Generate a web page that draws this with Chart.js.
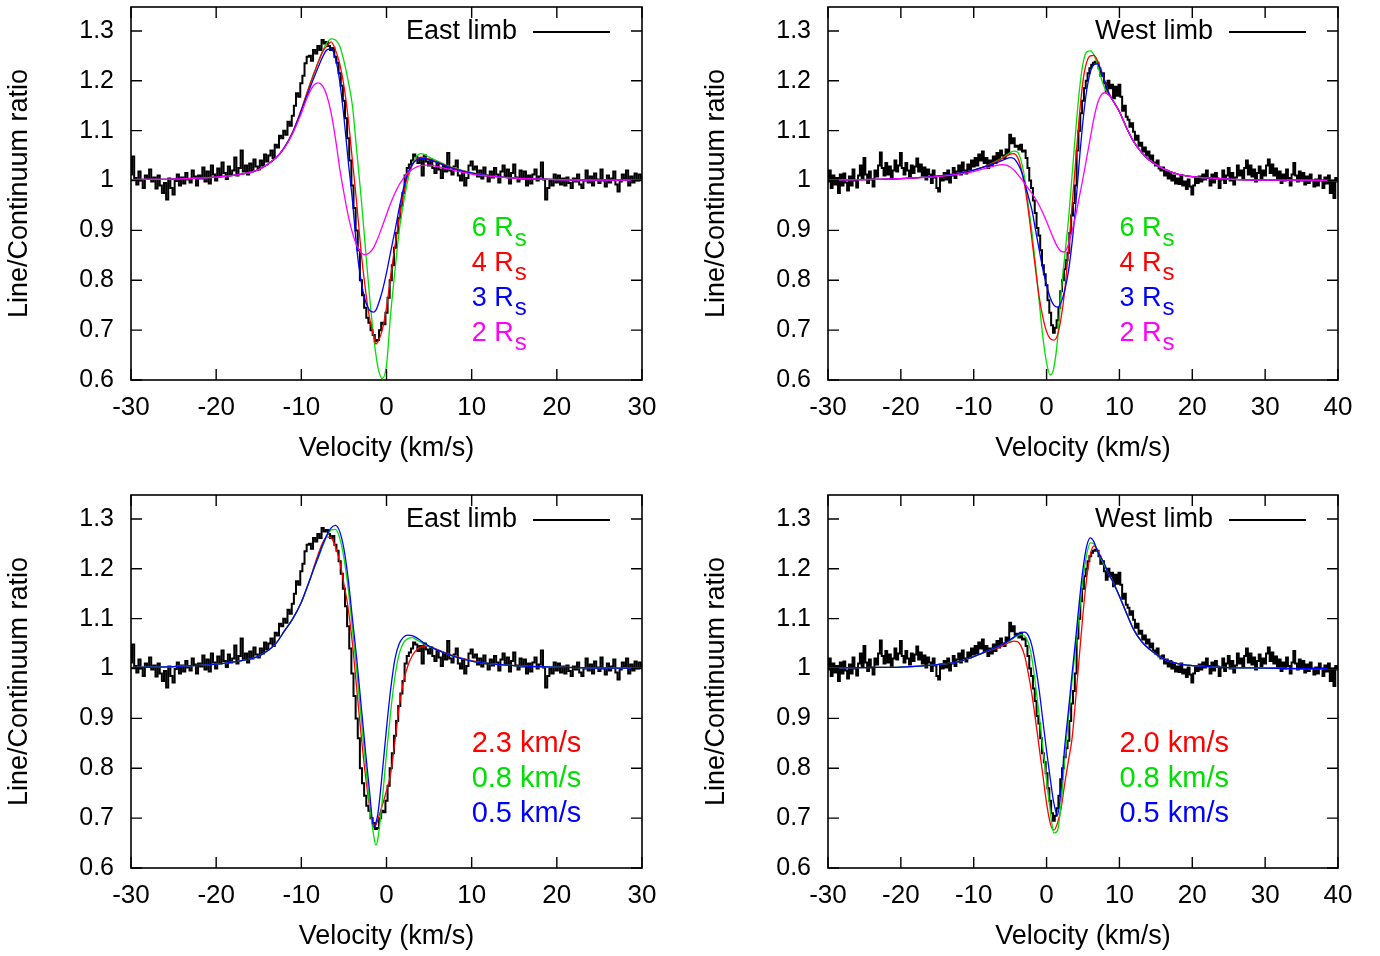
<!DOCTYPE html>
<html>
<head>
<meta charset="utf-8">
<title>Line profiles - East / West limb</title>
<script src="https://cdn.jsdelivr.net/npm/chart.js@4.4.1/dist/chart.umd.min.js"></script>
<style>
  html, body { margin: 0; padding: 0; background: #fff; }
  body { width: 1380px; height: 956px; overflow: hidden; position: relative; }
  .panel { position: absolute; width: 690px; height: 478px; }
</style>
</head>
<body>
<div class="panel" style="left:0;top:0"><canvas id="eastRadius" width="690" height="478"></canvas></div>
<div class="panel" style="left:697px;top:0"><canvas id="westRadius" width="690" height="478"></canvas></div>
<div class="panel" style="left:0;top:488px"><canvas id="eastSpeed" width="690" height="478"></canvas></div>
<div class="panel" style="left:697px;top:488px"><canvas id="westSpeed" width="690" height="478"></canvas></div>

<script>
/* ------------------------------------------------------------
   Data
   ------------------------------------------------------------ */
const yTicks = [0.6, 0.7, 0.8, 0.9, 1.0, 1.1, 1.2, 1.3];
const xTicksEast = [-30, -20, -10, 0, 10, 20, 30];
const xTicksWest = [-30, -20, -10, 0, 10, 20, 30, 40];

// observed profiles, sampled every 0.25 km/s from -30 km/s
const obsStart = -30;
const obsStep = 0.25;

const eastObs = [
  1.012, 1.048, 1.005, 0.992,  1.018, 1.000, 0.985, 1.010,  1.003, 1.022, 0.998, 1.006,
  0.984, 1.010, 0.990, 0.975,  0.995, 0.962, 1.004, 0.985,  0.972, 0.999, 1.012, 0.990,
  1.006, 0.994, 1.015, 1.002,  0.996, 1.020, 1.008, 0.990,  1.010, 1.004, 1.026, 0.998,
  1.018, 0.994, 1.030, 1.012,  1.000, 1.024, 1.010, 1.036,  1.015, 1.003, 1.028, 1.012,
  1.020, 1.046, 1.010, 1.025,  1.060, 1.018, 1.030, 1.012,  1.034, 1.020, 1.042, 1.028,
  1.022, 1.040, 1.030, 1.052,  1.038, 1.050, 1.060, 1.045,  1.072, 1.066, 1.090, 1.085,
  1.100, 1.092, 1.118, 1.110,  1.130, 1.150, 1.175, 1.168,  1.195, 1.210, 1.235, 1.248,
  1.250, 1.240, 1.262, 1.255,  1.270, 1.262, 1.282, 1.275,  1.278, 1.270, 1.262, 1.266,
  1.248, 1.236, 1.215, 1.190,  1.160, 1.125, 1.085, 1.040,  0.990, 0.945, 0.900, 0.860,
  0.800, 0.770, 0.745, 0.725,  0.715, 0.700, 0.690, 0.678,  0.680, 0.700, 0.715, 0.712,
  0.735, 0.765, 0.800, 0.830,  0.865, 0.895, 0.925, 0.950,  0.975, 1.010, 1.025, 1.032,
  1.040, 1.052, 1.048, 1.035,  1.045, 1.010, 1.050, 1.038,  1.030, 1.042, 1.025, 1.015,
  1.035, 1.022, 1.005, 1.030,  1.018, 1.055, 1.020, 1.012,  1.028, 1.040, 1.010, 1.000,
  1.018, 0.990, 1.005, 1.030,  1.038, 1.022, 1.028, 1.008,  1.020, 1.004, 1.026, 1.010,
  0.998, 1.018, 1.006, 1.025,  1.012, 0.996, 1.018, 1.030,  1.008, 1.022, 0.994, 1.015,
  1.032, 1.006, 0.998, 1.020,  1.004, 1.018, 0.990, 1.010,  0.994, 1.012, 1.022, 1.000,
  1.008, 1.036, 1.002, 0.962,  0.985, 1.000, 0.990, 1.012,  0.996, 1.010, 0.992, 1.004,
  0.990, 1.006, 0.995, 0.985,  1.004, 0.998, 1.012, 0.992,  0.985, 1.000, 1.020, 0.996,
  1.008, 0.990, 1.014, 1.002,  0.995, 1.022, 1.000, 0.988,  1.010, 0.996, 1.004, 1.018,
  0.992, 0.978, 0.998, 1.012,  1.004, 1.020, 0.990, 1.008,  0.996, 1.014, 1.000, 1.012,
  1.004
];

const westObs = [
  0.998, 1.020, 0.985, 1.010,  0.992, 1.005, 0.975, 1.012,  0.990, 1.014, 0.996, 0.980,
  1.008, 0.990, 1.022, 1.000,  0.986, 1.010, 1.030, 1.004,  1.045, 1.012, 0.995, 1.018,
  1.002, 0.988, 1.020, 1.008,  1.030, 1.056, 1.025, 1.010,  1.035, 1.012, 1.028, 1.004,
  1.020, 1.040, 1.018, 1.030,  1.055, 1.025, 1.012, 1.035,  1.020, 1.008, 1.030, 1.015,
  1.028, 1.044, 1.018, 1.032,  1.010, 1.026, 1.002, 1.022,  1.012, 0.995, 1.020, 1.006,
  0.985, 0.978, 1.008, 1.000,  1.015, 1.002, 1.020, 0.996,  1.010, 1.025, 1.005, 1.018,
  1.030, 1.012, 1.036, 1.020,  1.014, 1.032, 1.022, 1.040,  1.028, 1.045, 1.030, 1.052,
  1.040, 1.058, 1.035, 1.045,  1.025, 1.040, 1.030, 1.048,  1.035, 1.055, 1.042, 1.060,
  1.050, 1.045, 1.062, 1.055,  1.092, 1.075, 1.085, 1.068,  1.070, 1.062, 1.072, 1.058,
  1.060, 1.045, 1.025, 1.000,  0.985, 0.960, 0.935, 0.905,  0.890, 0.860, 0.830, 0.812,
  0.790, 0.760, 0.735, 0.710,  0.695, 0.705, 0.720, 0.745,  0.778, 0.800, 0.822, 0.840,
  0.855, 0.895, 0.930, 0.955,  0.990, 1.060, 1.100, 1.135,  1.160, 1.185, 1.200, 1.215,
  1.225, 1.232, 1.236, 1.238,  1.236, 1.225, 1.210, 1.215,  1.195, 1.178, 1.200, 1.185,
  1.192, 1.165, 1.188, 1.170,  1.192, 1.168, 1.140, 1.150,  1.128, 1.122, 1.108, 1.115,
  1.098, 1.082, 1.090, 1.070,  1.076, 1.058, 1.066, 1.050,  1.058, 1.042, 1.050, 1.036,
  1.030, 1.040, 1.024, 1.020,  1.026, 1.010, 1.018, 1.004,  1.015, 1.000, 1.010, 0.994,
  1.004, 0.993, 1.010, 0.990,  0.998, 0.983, 1.002, 0.988,  0.972, 0.990, 1.005, 0.995,
  1.008, 0.998, 1.012, 1.002,  1.020, 1.005, 0.990, 1.012,  0.996, 1.015, 1.004, 0.985,
  1.002, 1.020, 0.995, 1.010,  1.025, 1.000, 1.015, 0.992,  1.006, 1.030, 1.010, 1.020,
  1.004, 1.025, 1.040, 1.012,  1.030, 1.008, 1.022, 0.998,  1.015, 1.028, 1.005, 1.020,
  1.010, 1.030, 1.042, 1.015,  1.032, 1.010, 1.024, 1.002,  1.018, 0.995, 1.012, 1.000,
  1.022, 1.005, 0.990, 1.012,  1.035, 1.010, 0.998, 1.018,  1.000, 1.015, 0.992, 1.008,
  0.995, 1.012, 1.000, 0.988,  1.002, 0.990, 1.010, 1.000,  0.985, 1.006, 0.994, 1.010,
  0.975, 1.000, 0.965, 1.005,  0.998
];

// model velocity grids (km/s)
const eastGrid = [
  -30, -25, -20, -17, -15, -13, -12,
  -11, -10, -9.5, -9, -8.5, -8, -7.5,
  -7, -6.5, -6, -5.5, -5, -4.5, -4,
  -3.5, -3, -2.5, -2, -1.5, -1.25, -1,
  -0.5, 0, 0.5, 1, 1.5, 2, 2.5,
  3, 3.5, 4, 4.5, 5, 6, 7,
  8, 10, 12, 15, 20, 25, 30
];
const westGrid = [
  -30, -25, -20, -15, -12, -10, -8,
  -7, -6, -5.5, -5, -4.5, -4, -3.5,
  -3, -2.5, -2, -1.5, -1, -0.5, 0,
  0.5, 1, 1.5, 2, 2.5, 3, 3.5,
  4, 4.5, 5, 5.5, 6, 6.5, 7,
  7.5, 8, 8.5, 9, 10, 11, 12,
  13, 14, 16, 18, 20, 25, 30,
  35, 40
];

// East limb, emission radius models
const eastR6 = [
  1.002, 1.003, 1.007, 1.013, 1.022, 1.045, 1.066,
  1.098, 1.142, 1.168, 1.193, 1.217, 1.238, 1.260,
  1.276, 1.284, 1.282, 1.270, 1.240, 1.200, 1.150,
  1.060, 0.970, 0.870, 0.770, 0.685, 0.652, 0.625,
  0.603, 0.630, 0.735, 0.820, 0.900, 0.955, 1.000,
  1.030, 1.048, 1.054, 1.052, 1.047, 1.039, 1.031,
  1.025, 1.016, 1.010, 1.005, 1.002, 1.001, 1.001
];
const eastR4 = [
  1.002, 1.003, 1.007, 1.013, 1.022, 1.045, 1.066,
  1.098, 1.142, 1.167, 1.192, 1.215, 1.238, 1.258,
  1.270, 1.278, 1.262, 1.235, 1.190, 1.125, 1.040,
  0.955, 0.860, 0.785, 0.725, 0.688, 0.672, 0.677,
  0.700, 0.745, 0.810, 0.870, 0.925, 0.975, 1.010,
  1.030, 1.042, 1.047, 1.046, 1.043, 1.037, 1.030,
  1.024, 1.015, 1.010, 1.005, 1.002, 1.001, 1.001
];
const eastR3 = [
  1.002, 1.003, 1.007, 1.013, 1.022, 1.045, 1.066,
  1.097, 1.140, 1.163, 1.185, 1.207, 1.228, 1.248,
  1.262, 1.264, 1.245, 1.200, 1.127, 1.040, 0.960,
  0.865, 0.800, 0.760, 0.740, 0.736, 0.740, 0.750,
  0.778, 0.815, 0.858, 0.900, 0.945, 0.985, 1.015,
  1.032, 1.041, 1.044, 1.044, 1.042, 1.036, 1.029,
  1.023, 1.015, 1.010, 1.005, 1.002, 1.001, 1.001
];
const eastR2 = [
  1.002, 1.003, 1.007, 1.013, 1.022, 1.045, 1.065,
  1.095, 1.135, 1.158, 1.178, 1.192, 1.196, 1.190,
  1.170, 1.135, 1.085, 1.025, 0.975, 0.930, 0.895,
  0.870, 0.856, 0.851, 0.855, 0.866, 0.875, 0.885,
  0.908, 0.932, 0.955, 0.975, 0.992, 1.005, 1.015,
  1.022, 1.027, 1.030, 1.031, 1.031, 1.028, 1.024,
  1.020, 1.013, 1.009, 1.005, 1.002, 1.001, 1.001
];

// West limb, emission radius models
const westR6 = [
  1.001, 1.002, 1.004, 1.009, 1.015, 1.021, 1.031,
  1.038, 1.046, 1.051, 1.056, 1.059, 1.057, 1.040,
  1.005, 0.950, 0.895, 0.830, 0.755, 0.685, 0.635,
  0.610, 0.625, 0.680, 0.775, 0.850, 0.920, 1.010,
  1.100, 1.180, 1.235, 1.258, 1.260, 1.252, 1.232,
  1.205, 1.185, 1.172, 1.163, 1.138, 1.105, 1.077,
  1.057, 1.042, 1.024, 1.013, 1.008, 1.003, 1.001,
  1.001, 1.000
];
const westR4 = [
  1.001, 1.002, 1.004, 1.009, 1.015, 1.021, 1.031,
  1.037, 1.045, 1.049, 1.053, 1.054, 1.047, 1.025,
  0.990, 0.940, 0.880, 0.820, 0.765, 0.725, 0.697,
  0.683, 0.680, 0.690, 0.725, 0.780, 0.860, 0.950,
  1.040, 1.130, 1.200, 1.237, 1.250, 1.251, 1.240,
  1.220, 1.200, 1.178, 1.163, 1.138, 1.105, 1.077,
  1.057, 1.042, 1.024, 1.013, 1.008, 1.003, 1.001,
  1.001, 1.000
];
const westR3 = [
  1.001, 1.002, 1.004, 1.009, 1.015, 1.021, 1.030,
  1.035, 1.041, 1.044, 1.046, 1.044, 1.035, 1.020,
  0.995, 0.968, 0.940, 0.900, 0.860, 0.822, 0.790,
  0.765, 0.750, 0.746, 0.756, 0.780, 0.818, 0.875,
  0.950, 1.040, 1.120, 1.180, 1.217, 1.232, 1.234,
  1.220, 1.198, 1.176, 1.163, 1.138, 1.105, 1.077,
  1.057, 1.042, 1.024, 1.013, 1.008, 1.003, 1.001,
  1.001, 1.000
];
const westR2 = [
  1.001, 1.002, 1.004, 1.008, 1.013, 1.018, 1.026,
  1.030, 1.032, 1.031, 1.027, 1.021, 1.013, 1.004,
  0.994, 0.984, 0.974, 0.963, 0.950, 0.935, 0.918,
  0.900, 0.882, 0.867, 0.858, 0.857, 0.872, 0.898,
  0.930, 0.967, 1.005, 1.045, 1.085, 1.125, 1.155,
  1.172, 1.176, 1.172, 1.163, 1.138, 1.105, 1.077,
  1.057, 1.042, 1.024, 1.013, 1.008, 1.003, 1.001,
  1.001, 1.000
];

// East limb, turbulent velocity models
const eastV23 = [
  1.002, 1.004, 1.009, 1.016, 1.025, 1.050, 1.075,
  1.100, 1.133, 1.155, 1.178, 1.205, 1.230, 1.252,
  1.264, 1.262, 1.245, 1.215, 1.170, 1.120, 1.050,
  0.960, 0.870, 0.790, 0.725, 0.687, 0.686, 0.698,
  0.725, 0.755, 0.790, 0.855, 0.925, 0.974, 1.005,
  1.025, 1.037, 1.043, 1.045, 1.044, 1.038, 1.031,
  1.025, 1.016, 1.010, 1.006, 1.003, 1.001, 1.001
];
const eastV08 = [
  1.002, 1.004, 1.009, 1.016, 1.025, 1.050, 1.075,
  1.100, 1.133, 1.155, 1.178, 1.201, 1.222, 1.245,
  1.265, 1.278, 1.279, 1.262, 1.222, 1.160, 1.080,
  0.995, 0.905, 0.815, 0.730, 0.665, 0.646, 0.660,
  0.735, 0.830, 0.915, 0.985, 1.030, 1.052, 1.060,
  1.062, 1.058, 1.053, 1.048, 1.044, 1.037, 1.030,
  1.024, 1.015, 1.010, 1.006, 1.003, 1.001, 1.001
];
const eastV05 = [
  1.002, 1.004, 1.009, 1.016, 1.025, 1.050, 1.075,
  1.100, 1.133, 1.155, 1.178, 1.202, 1.225, 1.248,
  1.268, 1.282, 1.287, 1.275, 1.240, 1.180, 1.100,
  1.020, 0.930, 0.840, 0.755, 0.682, 0.690, 0.710,
  0.790, 0.880, 0.960, 1.020, 1.050, 1.063, 1.067,
  1.066, 1.062, 1.056, 1.050, 1.045, 1.037, 1.030,
  1.024, 1.015, 1.010, 1.006, 1.003, 1.001, 1.001
];

// West limb, turbulent velocity models
const westV20 = [
  1.001, 1.002, 1.003, 1.008, 1.014, 1.024, 1.035,
  1.040, 1.046, 1.050, 1.053, 1.055, 1.054, 1.045,
  1.025, 0.990, 0.947, 0.895, 0.840, 0.785, 0.730,
  0.690, 0.676, 0.690, 0.720, 0.770, 0.815, 0.860,
  0.940, 1.025, 1.110, 1.180, 1.228, 1.246, 1.238,
  1.222, 1.205, 1.190, 1.177, 1.145, 1.110, 1.077,
  1.055, 1.040, 1.020, 1.010, 1.006, 1.002, 1.001,
  1.000, 1.000
];
const westV08 = [
  1.001, 1.002, 1.003, 1.008, 1.014, 1.024, 1.036,
  1.042, 1.049, 1.052, 1.056, 1.061, 1.066, 1.068,
  1.065, 1.052, 1.020, 0.965, 0.905, 0.840, 0.775,
  0.715, 0.670, 0.675, 0.730, 0.820, 0.900, 0.975,
  1.045, 1.115, 1.180, 1.228, 1.252, 1.250, 1.235,
  1.220, 1.205, 1.190, 1.177, 1.145, 1.110, 1.077,
  1.055, 1.040, 1.020, 1.010, 1.006, 1.002, 1.001,
  1.000, 1.000
];
const westV05 = [
  1.001, 1.002, 1.003, 1.008, 1.014, 1.024, 1.036,
  1.042, 1.049, 1.053, 1.058, 1.063, 1.068, 1.072,
  1.073, 1.066, 1.045, 1.005, 0.955, 0.895, 0.835,
  0.780, 0.730, 0.706, 0.760, 0.845, 0.915, 0.990,
  1.060, 1.135, 1.200, 1.245, 1.262, 1.254, 1.235,
  1.222, 1.208, 1.190, 1.177, 1.145, 1.110, 1.077,
  1.055, 1.040, 1.020, 1.010, 1.006, 1.002, 1.001,
  1.000, 1.000
];

/* ------------------------------------------------------------
   Styling
   ------------------------------------------------------------ */
const FONT = '"Liberation Sans", Arial, Helvetica, sans-serif';
const GREEN = '#00e000';
const RED = '#ff0000';
const BLUE = '#0000ff';
const MAGENTA = '#ff00ff';

Chart.defaults.font.family = FONT;
Chart.defaults.color = '#000';

// frame with inward ticks, limb key and coloured model labels
const panelDecor = {
  id: 'panelDecor',
  afterDatasetsDraw(chart, args, opts) {
    const { ctx, chartArea: a } = chart;
    const x = chart.scales.x;
    const y = chart.scales.y;
    ctx.save();

    ctx.strokeStyle = '#000';
    ctx.lineWidth = 1.4;
    ctx.beginPath();
    x.ticks.forEach(t => {
      const px = x.getPixelForValue(t.value);
      ctx.moveTo(px, a.bottom); ctx.lineTo(px, a.bottom - 11);
      ctx.moveTo(px, a.top);    ctx.lineTo(px, a.top + 11);
    });
    y.ticks.forEach(t => {
      const py = y.getPixelForValue(t.value);
      ctx.moveTo(a.left, py);  ctx.lineTo(a.left + 11, py);
      ctx.moveTo(a.right, py); ctx.lineTo(a.right - 11, py);
    });
    ctx.stroke();
    ctx.lineWidth = 1.6;
    ctx.strokeRect(a.left, a.top, a.right - a.left, a.bottom - a.top);

    // limb key
    const ky = y.getPixelForValue(1.3) + 1;
    ctx.font = `27px ${FONT}`;
    ctx.fillStyle = '#000';
    ctx.textAlign = 'right';
    ctx.textBaseline = 'middle';
    ctx.fillText(opts.limb, a.right - 125, ky);
    ctx.lineWidth = 2;
    ctx.beginPath();
    ctx.moveTo(a.right - 109, ky);
    ctx.lineTo(a.right - 32, ky);
    ctx.stroke();

    // model labels
    const lx = x.getPixelForValue(opts.labelX);
    ctx.textAlign = 'left';
    opts.labels.forEach((l, i) => {
      const ly = y.getPixelForValue(opts.labelY[i]);
      ctx.fillStyle = l.color;
      ctx.font = `${l.sub ? 27 : 29}px ${FONT}`;
      ctx.fillText(l.text, lx, ly);
      if (l.sub) {
        const w = ctx.measureText(l.text).width;
        ctx.font = `24px ${FONT}`;
        ctx.fillText(l.sub, lx + w + 1, ly + 10);
      }
    });
    ctx.restore();
  }
};

/* ------------------------------------------------------------
   Panels
   ------------------------------------------------------------ */
function makePanel(id, cfg) {
  const obsData = cfg.obs.map((v, i) => ({ x: obsStart + i * obsStep, y: v }));
  const datasets = [{
    label: cfg.limb,
    data: obsData,
    borderColor: '#000',
    borderWidth: 2,
    stepped: 'middle',
    pointRadius: 0,
    order: 10,
  }];
  // first model in the list is drawn on top
  cfg.models.forEach((m, i) => {
    datasets.push({
      label: m.label,
      data: cfg.grid.map((v, j) => ({ x: v, y: m.data[j] })),
      borderColor: m.color,
      borderWidth: 1.3,
      cubicInterpolationMode: 'monotone',
      pointRadius: 0,
      order: i + 1,
    });
  });

  return new Chart(document.getElementById(id), {
    type: 'line',
    data: { datasets },
    options: {
      responsive: false,
      animation: false,
      events: [],
      layout: { padding: { top: 7, right: cfg.padRight, left: 0, bottom: 0 } },
      plugins: {
        legend: { display: false },
        tooltip: { enabled: false },
        panelDecor: {
          limb: cfg.limb,
          labels: cfg.labels,
          labelX: 10,
          labelY: cfg.labelY,
        },
      },
      scales: {
        x: {
          type: 'linear',
          min: cfg.xTicks[0],
          max: cfg.xTicks[cfg.xTicks.length - 1],
          afterBuildTicks: s => { s.ticks = cfg.xTicks.map(v => ({ value: v })); },
          afterFit: s => {
            s.height = 98;
            s.paddingLeft = 0; s.paddingRight = 0;
            s.paddingTop = 0; s.paddingBottom = 0;
          },
          grid: { display: false, drawTicks: false },
          border: { display: false },
          ticks: {
            autoSkip: false, maxRotation: 0, padding: 12,
            font: { size: 26 },
            callback: v => String(v),
          },
          title: {
            display: true, text: 'Velocity (km/s)',
            font: { size: 27 },
            padding: { top: 0, bottom: 13 },
          },
        },
        y: {
          type: 'linear',
          min: 0.6,
          max: 1.348,
          afterBuildTicks: s => { s.ticks = yTicks.map(v => ({ value: v })); },
          afterFit: s => {
            s.width = 131;
            s.paddingLeft = 0; s.paddingRight = 0;
            s.paddingTop = 0; s.paddingBottom = 0;
          },
          grid: { display: false, drawTicks: false },
          border: { display: false },
          ticks: {
            autoSkip: false, padding: 17,
            font: { size: 25 },
            callback: v => String(+v.toFixed(1)),
          },
          title: {
            display: true, text: 'Line/Continuum ratio',
            font: { size: 27 },
            padding: { top: 3, bottom: 0 },
          },
        },
      },
    },
    plugins: [panelDecor],
  });
}

const radiusLabelY = [0.903, 0.833, 0.763, 0.693];
const speedLabelY = [0.849, 0.779, 0.708];

makePanel('eastRadius', {
  obs: eastObs, grid: eastGrid, xTicks: xTicksEast, padRight: 48, limb: 'East limb',
  models: [
    { label: '2 Rs', data: eastR2, color: MAGENTA },
    { label: '3 Rs', data: eastR3, color: BLUE },
    { label: '4 Rs', data: eastR4, color: RED },
    { label: '6 Rs', data: eastR6, color: GREEN },
  ],
  labels: [
    { text: '6 R', sub: 's', color: GREEN },
    { text: '4 R', sub: 's', color: RED },
    { text: '3 R', sub: 's', color: BLUE },
    { text: '2 R', sub: 's', color: MAGENTA },
  ],
  labelY: radiusLabelY,
});

makePanel('westRadius', {
  obs: westObs, grid: westGrid, xTicks: xTicksWest, padRight: 49, limb: 'West limb',
  models: [
    { label: '2 Rs', data: westR2, color: MAGENTA },
    { label: '3 Rs', data: westR3, color: BLUE },
    { label: '4 Rs', data: westR4, color: RED },
    { label: '6 Rs', data: westR6, color: GREEN },
  ],
  labels: [
    { text: '6 R', sub: 's', color: GREEN },
    { text: '4 R', sub: 's', color: RED },
    { text: '3 R', sub: 's', color: BLUE },
    { text: '2 R', sub: 's', color: MAGENTA },
  ],
  labelY: radiusLabelY,
});

makePanel('eastSpeed', {
  obs: eastObs, grid: eastGrid, xTicks: xTicksEast, padRight: 48, limb: 'East limb',
  models: [
    { label: '0.5 km/s', data: eastV05, color: BLUE },
    { label: '0.8 km/s', data: eastV08, color: GREEN },
    { label: '2.3 km/s', data: eastV23, color: RED },
  ],
  labels: [
    { text: '2.3 km/s', color: RED },
    { text: '0.8 km/s', color: GREEN },
    { text: '0.5 km/s', color: BLUE },
  ],
  labelY: speedLabelY,
});

makePanel('westSpeed', {
  obs: westObs, grid: westGrid, xTicks: xTicksWest, padRight: 49, limb: 'West limb',
  models: [
    { label: '0.5 km/s', data: westV05, color: BLUE },
    { label: '0.8 km/s', data: westV08, color: GREEN },
    { label: '2.0 km/s', data: westV20, color: RED },
  ],
  labels: [
    { text: '2.0 km/s', color: RED },
    { text: '0.8 km/s', color: GREEN },
    { text: '0.5 km/s', color: BLUE },
  ],
  labelY: speedLabelY,
});
</script>
</body>
</html>
